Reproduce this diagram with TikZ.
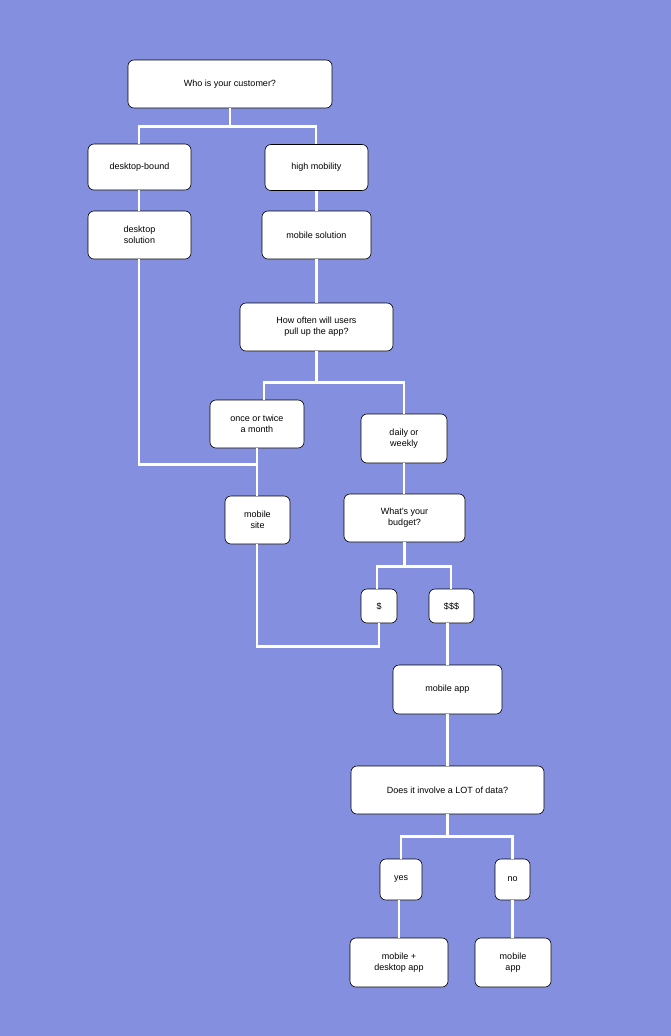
\documentclass[tikz,border=0pt]{standalone}
\usepackage{fontspec}
\setmainfont{Liberation Sans}
\definecolor{bgblue}{RGB}{132,144,223}
\tikzset{
  box/.style={draw=black, fill=white, rounded corners=6pt, align=center,
    font=\fontsize{9}{11}\selectfont, inner sep=0pt, line width=0.6pt},
  wire/.style={draw=white, line width=2.4pt}
}
\begin{document}
\begin{tikzpicture}[x=1pt, y=-1pt]
  \fill[bgblue] (0,0) rectangle (671,1036);
  \useasboundingbox (0,0) rectangle (671,1036);
  % questions and answers
  \node (cust) at (230,84) [box, minimum width=204pt, minimum height=48pt] {Who is your customer?};
  \node (desk) at (139.5,167) [box, minimum width=103pt, minimum height=46pt] {desktop-bound};
  \node (high) at (316.5,167.5) [box, minimum width=103pt, minimum height=46pt] {high mobility};
  \node (desksol) at (139.5,235) [box, minimum width=103pt, minimum height=48pt] {desktop\\solution};
  \node (mobsol) at (316.5,235) [box, minimum width=109pt, minimum height=48pt] {mobile solution};
  \node (often) at (316.5,327) [box, minimum width=153pt, minimum height=48pt] {How often will users\\pull up the app?};
  \node (once) at (257,424) [box, minimum width=94pt, minimum height=48pt] {once or twice\\a month};
  \node (daily) at (404,438.5) [box, minimum width=86pt, minimum height=49pt] {daily or\\weekly};
  \node (site) at (257.5,520) [box, minimum width=65pt, minimum height=48pt] {mobile\\site};
  \node (budget) at (404.5,518) [box, minimum width=121pt, minimum height=48pt] {What's your\\budget?};
  \node (low) at (379,606) [box, minimum width=36pt, minimum height=34pt] {\$};
  \node (rich) at (451.5,606) [box, minimum width=45pt, minimum height=34pt] {\$\$\$};
  \node (app) at (447.5,689.5) [box, minimum width=109pt, minimum height=49pt] {mobile app};
  \node (data) at (447.5,790) [box, minimum width=193pt, minimum height=48pt] {Does it involve a LOT of data?};
  \node (yes) at (401,879.5) [box, minimum width=42pt, minimum height=41pt] {yes};
  \node (no) at (512.5,879.5) [box, minimum width=35pt, minimum height=41pt] {no};
  \node (mobdesk) at (399,962.5) [box, minimum width=98pt, minimum height=49pt] {mobile +\\desktop app};
  \node (mapp) at (513,962.5) [box, minimum width=76pt, minimum height=49pt] {mobile\\app};
  % connectors
  \draw[wire] (cust.south) -- ([yshift=-18pt]cust.south);
  \draw[wire] ([xshift=-0.5pt]desk.north) |- ([yshift=-18pt]cust.south) -| ([xshift=-0.5pt]high.north);
  \draw[wire] ([xshift=-0.5pt]desk.south) -- ([xshift=-0.5pt]desksol.north);
  \draw[wire] (high) -- (mobsol);
  \draw[wire] (mobsol) -- (often);
  \draw[wire] (often.south) -- ([yshift=-31pt]often.south);
  \draw[wire] ([xshift=7pt]once.north) |- ([yshift=-31pt]often.south) -| (daily.north);
  \draw[wire] ([xshift=-0.5pt]desksol.south) |- ([yshift=-16pt]once.south);
  \draw[wire] (once.south) -- (site.north -| once.south);
  \draw[wire] (daily) -- (budget.north -| daily.south);
  \draw[wire] (budget.south) -- ([yshift=-24pt]budget.south);
  \draw[wire] ([xshift=-2pt]low.north) |- ([yshift=-24pt]budget.south) -| ([xshift=-0.5pt]rich.north);
  \draw[wire] (site.south -| once.south) |- ([yshift=-23pt]low.south) -- (low.south);
  \draw[wire] ([xshift=-4pt]rich.south) -- (app.north);
  \draw[wire] (app) -- (data);
  \draw[wire] (data.south) -- ([yshift=-22pt]data.south);
  \draw[wire] (yes.north) |- ([yshift=-22pt]data.south) -| (no.north);
  \draw[wire] ([xshift=-2pt]yes.south) -- ([xshift=-2pt]yes.south |- mobdesk.north);
  \draw[wire] (no.south) -- (no.south |- mapp.north);
\end{tikzpicture}
\end{document}
